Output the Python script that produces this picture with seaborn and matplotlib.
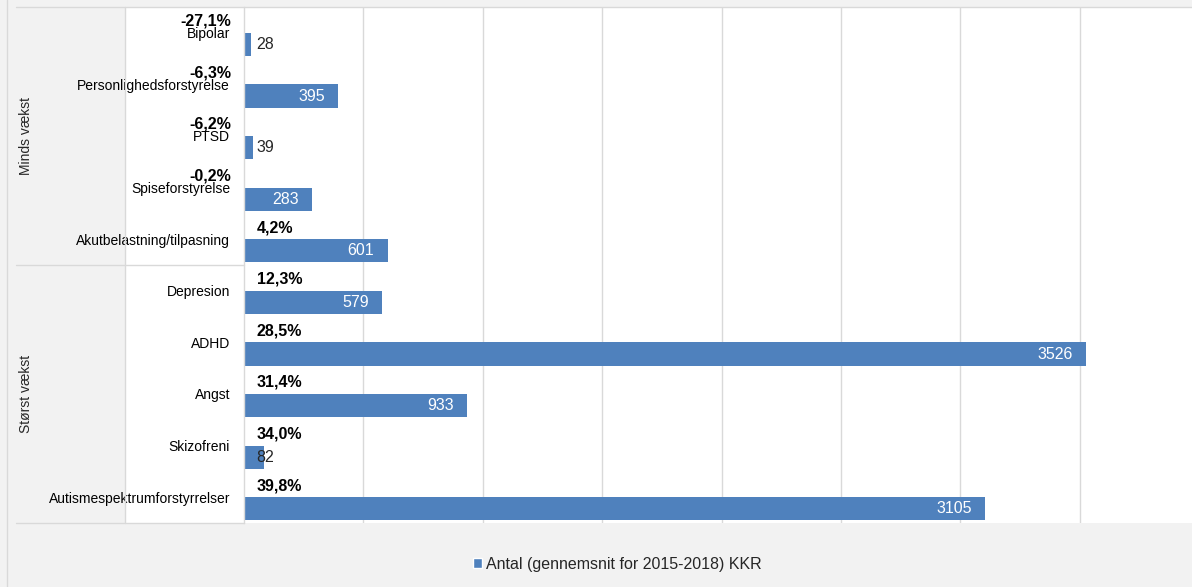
import matplotlib
matplotlib.use("Agg")
import matplotlib.pyplot as plt
from matplotlib.lines import Line2D
from matplotlib.patches import Patch, Rectangle
import pandas as pd
import seaborn as sns

categories = [
    "Bipolar", "Personlighedsforstyrelse", "PTSD", "Spiseforstyrelse",
    "Akutbelastning/tilpasning", "Depresion", "ADHD", "Angst", "Skizofreni",
    "Autismespektrumforstyrrelser",
]
growth_pct = [-27.1, -6.3, -6.2, -0.2, 4.2, 12.3, 28.5, 31.4, 34.0, 39.8]
counts = [28, 395, 39, 283, 601, 579, 3526, 933, 82, 3105]
groups = ["Minds vækst", "Størst vækst"]
count_series = "Antal (gennemsnit for 2015-2018) KKR"
growth_series = "Vækst"

BLUE = "#4f81bd"
GRID = "#d9d9d9"
BG = "#f2f2f2"
W, H = 1192, 587

sns.set_theme(style="white")
plt.rcParams["font.family"] = ["Liberation Sans", "DejaVu Sans"]

df = pd.DataFrame({
    "kategori": categories * 2,
    "værdi": [p / 100 for p in growth_pct] + counts,
    "serie": [growth_series] * len(categories) + [count_series] * len(categories),
})

fig = plt.figure(figsize=(W / 100, H / 100), dpi=100, facecolor=BG)


def fx(px):
    return px / W


def fy(py):
    return 1 - py / H


# white label column, behind everything
fig.patches.append(Rectangle((fx(125), fy(523)), fx(244 - 125), fy(7) - fy(523),
                             transform=fig.transFigure, facecolor="white",
                             edgecolor="none", zorder=-5))

ax = fig.add_axes([fx(244), fy(523), fx(W - 244), fy(7) - fy(523)])
ax.set_facecolor("white")

sns.barplot(data=df, y="kategori", x="værdi", hue="serie", orient="h",
            palette={growth_series: BLUE, count_series: BLUE}, saturation=1,
            width=0.9, linewidth=0, ax=ax, legend=False)

ax.set_xlim(0, 3970)
ax.set_xticks(range(500, 4000, 500))
ax.set_xticklabels([])
ax.grid(axis="x", color=GRID, linewidth=1.0)
ax.set_axisbelow(True)
for s in ["top", "right", "bottom"]:
    ax.spines[s].set_visible(False)
ax.spines["left"].set_color(GRID)
ax.spines["left"].set_linewidth(1.0)
ax.set_xlabel("")
ax.set_ylabel("")
ax.tick_params(axis="y", length=0, pad=10, labelsize=10, labelcolor="#000000")
ax.tick_params(axis="x", length=0)

growth_bars = ax.containers[0]
count_bars = ax.containers[1]
for b in growth_bars:
    b.set_visible(False)

pct_labels = ax.bar_label(growth_bars,
                          labels=[f"{p:.1f}%".replace(".", ",") for p in growth_pct],
                          padding=9, fontsize=11.5, fontweight="bold", color="#000000")
for t in pct_labels:
    t.set_annotation_clip(False)

for bar, v in zip(count_bars, counts):
    yc = bar.get_y() + bar.get_height() / 2
    if v < 100:
        ax.annotate(str(v), (0, yc), xytext=(9, 0), textcoords="offset points",
                    ha="left", va="center", fontsize=11.5, color="#262626")
    else:
        ax.annotate(str(v), (v, yc), xytext=(-9.5, 0), textcoords="offset points",
                    ha="right", va="center", fontsize=11.5, color="white")

# frame lines of the category table
lines = [
    ((7, 7), (0, H)),
    ((16, W), (6.5, 6.5)),
    ((125, 125), (7, 523)),
    ((16, 244), (265, 265)),
    ((16, 244), (523, 523)),
]
for xs, ys in lines:
    fig.add_artist(Line2D([fx(x) for x in xs], [fy(y) for y in ys],
                          color=GRID, linewidth=1.0, transform=fig.transFigure))

fig.text(fx(26), fy(136), groups[0], rotation=90, ha="center", va="center", fontsize=10)
fig.text(fx(26), fy(394), groups[1], rotation=90, ha="center", va="center", fontsize=10)

fig.legend(handles=[Patch(facecolor=BLUE, label=count_series)],
           loc="center", bbox_to_anchor=(fx(617), fy(564)), frameon=False,
           fontsize=11.5, handlelength=0.55, handleheight=0.55, handletextpad=0.25)

fig.savefig("out.png", dpi=100, facecolor=BG)
